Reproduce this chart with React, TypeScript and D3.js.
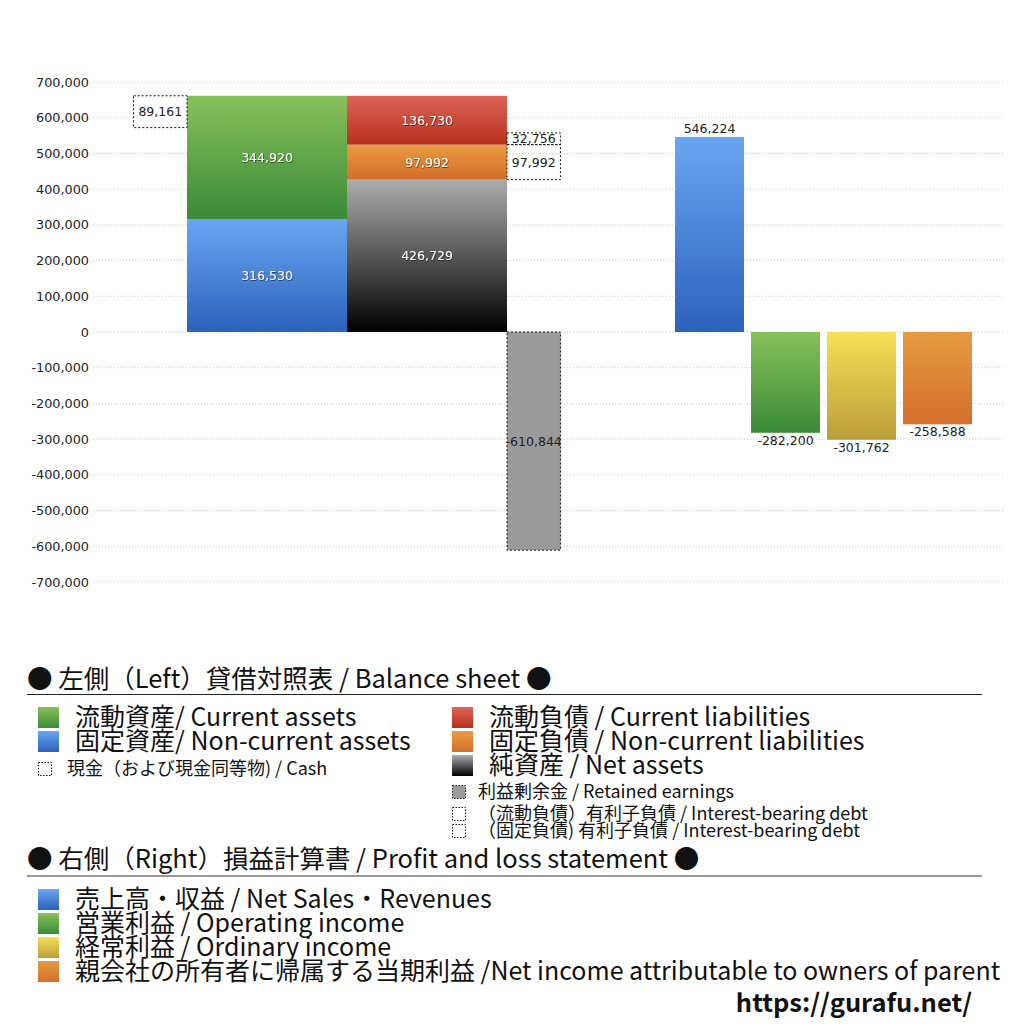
import React, { useEffect, useRef } from "react";
import * as d3 from "d3";

// 貸借対照表 (left)
const assetKeys = ["nonCurrentAssets", "currentAssets"];
const assetValues = [316530, 344920];
const liabilityKeys = ["netAssets", "nonCurrentLiabilities", "currentLiabilities"];
const liabilityValues = [426729, 97992, 136730];
const cashValue = 89161;
const debtKeys = ["nonCurrentDebt", "currentDebt"];
const debtValues = [97992, 32756];
const retainedEarnings = -610844;

// 損益計算書 (right)
const plKeys = ["revenue", "operating", "ordinary", "netIncome"];
const plValues = [546224, -282200, -301762, -258588];

const yTicks = d3.range(-700000, 700001, 100000);

const gradients: Record<string, [string, string]> = {
  currentAssets: ["#88c15b", "#3a8a37"],
  nonCurrentAssets: ["#6aa6f2", "#2c61bc"],
  currentLiabilities: ["#dd6456", "#b8301d"],
  nonCurrentLiabilities: ["#e99b42", "#d26e2a"],
  netAssets: ["#adadad", "#000000"],
  revenue: ["#6aa6f2", "#2c61bc"],
  operating: ["#88c15b", "#3a8a37"],
  ordinary: ["#f4e156", "#bc9e39"],
  netIncome: ["#e69b40", "#d46e2c"],
};

const legendLeftA = [
  { key: "currentAssets", label: "流動資産/ Current assets" },
  { key: "nonCurrentAssets", label: "固定資産/ Non-current assets" },
];
const legendLeftB = [
  { key: "currentLiabilities", label: "流動負債 /  Current liabilities" },
  { key: "nonCurrentLiabilities", label: "固定負債 / Non-current liabilities" },
  { key: "netAssets", label: "純資産 / Net assets" },
];
const legendSmallB = [
  { key: "retained", label: "利益剰余金 / Retained earnings" },
  { key: "debt", label: "（流動負債）有利子負債 / Interest-bearing debt" },
  { key: "debt", label: "（固定負債) 有利子負債 / Interest-bearing debt" },
];
const legendRight = [
  { key: "revenue", label: "売上高・収益 / Net Sales・Revenues" },
  { key: "operating", label: "営業利益 / Operating income" },
  { key: "ordinary", label: "経常利益 / Ordinary income" },
  { key: "netIncome", label: "親会社の所有者に帰属する当期利益 /Net income attributable to owners of parent" },
];

const FONT = "'Noto Sans CJK JP', 'Noto Sans', sans-serif";
const NUM_FONT = "'DejaVu Sans', sans-serif";
const fmt = (v: number) => d3.format(",")(v).replace("−", "-");

const App: React.FC = () => {
  const ref = useRef<SVGSVGElement | null>(null);

  useEffect(() => {
    if (!ref.current) return;
    const svg = d3.select(ref.current);
    svg.selectAll("*").remove();
    svg.style("font-family", FONT);

    const defs = svg.append("defs");
    Object.entries(gradients).forEach(([k, [c0, c1]]) => {
      const g = defs.append("linearGradient").attr("id", "g-" + k).attr("x1", 0).attr("y1", 0).attr("x2", 0).attr("y2", 1);
      g.append("stop").attr("offset", "0%").attr("stop-color", c0);
      g.append("stop").attr("offset", "100%").attr("stop-color", c1);
    });
    defs
      .append("filter")
      .attr("id", "shadow")
      .append("feDropShadow")
      .attr("dx", 0.6)
      .attr("dy", 0.8)
      .attr("stdDeviation", 0.5)
      .attr("flood-color", "#000")
      .attr("flood-opacity", 0.6);

    const y = d3.scaleLinear().domain([-700000, 700000]).range([582, 82]);

    // grid + y labels
    svg
      .append("g")
      .selectAll("line")
      .data(yTicks)
      .enter()
      .append("line")
      .attr("x1", 93)
      .attr("x2", 1005)
      .attr("y1", (d) => y(d))
      .attr("y2", (d) => y(d))
      .attr("stroke", "#c8c8c8")
      .attr("stroke-width", 1)
      .attr("stroke-dasharray", "1,2");

    svg
      .append("g")
      .selectAll("text")
      .data(yTicks)
      .enter()
      .append("text")
      .attr("x", 89)
      .attr("y", (d) => y(d) + 4.5)
      .attr("text-anchor", "end")
      .attr("font-family", NUM_FONT)
      .attr("font-size", 12.8)
      .attr("fill", "#222")
      .text((d) => fmt(d));

    // left columns in units: assets [0,0.5], liabilities [0.5,1]
    const xl = d3.scaleLinear().domain([0, 1]).range([187, 507]);
    const side = 0.167;

    const stackCol = (keys: string[], values: number[], x0: number, x1: number) => {
      let acc = 0;
      keys.forEach((k, i) => {
        const lo = acc;
        const hi = acc + values[i];
        acc = hi;
        svg
          .append("rect")
          .attr("x", xl(x0))
          .attr("width", xl(x1) - xl(x0))
          .attr("y", y(hi))
          .attr("height", y(lo) - y(hi))
          .attr("fill", `url(#g-${k})`);
        svg
          .append("text")
          .attr("x", (xl(x0) + xl(x1)) / 2)
          .attr("y", (y(lo) + y(hi)) / 2 + 4.5)
          .attr("text-anchor", "middle")
          .attr("font-family", NUM_FONT)
          .attr("font-size", 12.5)
          .attr("fill", "#fff")
          .attr("filter", "url(#shadow)")
          .text(fmt(values[i]));
      });
      return acc;
    };

    const totalAssets = stackCol(assetKeys, assetValues, 0, 0.5);
    stackCol(liabilityKeys, liabilityValues, 0.5, 1);

    const dashedBox = (x0: number, x1: number, hi: number, lo: number, value: number, fill: string) => {
      svg
        .append("rect")
        .attr("x", xl(x0))
        .attr("width", xl(x1) - xl(x0))
        .attr("y", y(hi))
        .attr("height", y(lo) - y(hi))
        .attr("fill", fill)
        .attr("stroke", "#111")
        .attr("stroke-width", 1)
        .attr("stroke-dasharray", "2,2");
      svg
        .append("text")
        .attr("x", (xl(x0) + xl(x1)) / 2)
        .attr("y", (y(lo) + y(hi)) / 2 + 4.5)
        .attr("text-anchor", "middle")
        .attr("font-family", NUM_FONT)
        .attr("font-size", 12.5)
        .attr("fill", "#222")
        .text(fmt(value));
    };

    // cash alongside assets top
    dashedBox(-side, 0, totalAssets, totalAssets - cashValue, cashValue, "#fff");

    // interest bearing debt stacked from top of net assets
    let acc = liabilityValues[0];
    debtKeys.forEach((k, i) => {
      const lo = acc;
      const hi = acc + debtValues[i];
      acc = hi;
      dashedBox(1, 1 + side, hi, lo, debtValues[i], "none");
    });

    // retained earnings
    dashedBox(1, 1 + side, 0, retainedEarnings, retainedEarnings, "#9b9b9b");

    // right: P&L bars
    const xr = d3.scaleBand<string>().domain(plKeys).range([675, 972]).paddingInner(0.092).paddingOuter(0);
    plKeys.forEach((k, i) => {
      const v = plValues[i];
      const top = y(Math.max(0, v));
      const bot = y(Math.min(0, v));
      svg
        .append("rect")
        .attr("x", xr(k)!)
        .attr("width", xr.bandwidth())
        .attr("y", top)
        .attr("height", bot - top)
        .attr("fill", `url(#g-${k})`);
      svg
        .append("text")
        .attr("x", xr(k)! + xr.bandwidth() / 2)
        .attr("y", v >= 0 ? top - 4 : bot + 12)
        .attr("text-anchor", "middle")
        .attr("font-family", NUM_FONT)
        .attr("font-size", 12.5)
        .attr("fill", "#222")
        .text(fmt(v));
    });

    // ---------- legend ----------
    const lg = svg.append("g").attr("fill", "#111").style("white-space", "pre");

    lg.append("text").attr("x", 27).attr("y", 688).attr("font-size", 25.5).text("● 左側（Left）貸借対照表 / Balance sheet ●");
    lg.append("line").attr("x1", 27).attr("x2", 982).attr("y1", 694.5).attr("y2", 694.5).attr("stroke", "#222").attr("stroke-width", 1.2);

    const bigItem = (x: number, cy: number, key: string, label: string) => {
      lg.append("rect").attr("x", x).attr("y", cy - 10).attr("width", 21).attr("height", 21).attr("fill", `url(#g-${key})`);
      lg.append("text").attr("x", x + 37).attr("y", cy + 8.5).attr("font-size", 25).text(label);
    };
    const smallItem = (x: number, cy: number, key: string, label: string, gap: number) => {
      lg.append("rect")
        .attr("x", x + 0.5)
        .attr("y", cy - 6.5)
        .attr("width", 13)
        .attr("height", 13)
        .attr("fill", key === "retained" ? "#9b9b9b" : "#fff")
        .attr("stroke", "#111")
        .attr("stroke-dasharray", "1.5,1.5");
      lg.append("text").attr("x", x + gap).attr("y", cy + 6).attr("font-size", 18).text(label);
    };

    legendLeftA.forEach((d, i) => bigItem(38, 717 + i * 24, d.key, d.label));
    smallItem(38, 769, "debt", "現金（および現金同等物) / Cash", 29);
    legendLeftB.forEach((d, i) => bigItem(452, 717 + i * 24, d.key, d.label));
    legendSmallB.forEach((d, i) => smallItem(452, [792, 814, 831][i], d.key, d.label, 26));

    lg.append("text").attr("x", 27).attr("y", 868).attr("font-size", 25.5).text("● 右側（Right）損益計算書 / Profit and loss statement ●");
    lg.append("line").attr("x1", 27).attr("x2", 982).attr("y1", 876).attr("y2", 876).attr("stroke", "#777").attr("stroke-width", 1.5);

    legendRight.forEach((d, i) => bigItem(38, 899 + i * 24, d.key, d.label));

    lg.append("text")
      .attr("x", 972)
      .attr("y", 1012)
      .attr("text-anchor", "end")
      .attr("font-size", 25.5)
      .attr("font-weight", "bold")
      .text("https://gurafu.net/");
  }, []);

  return (
    <svg
      ref={ref}
      width={1024}
      height={1024}
      style={{ position: "absolute", left: 0, top: 0, background: "#fff" }}
    />
  );
};

export default App;
